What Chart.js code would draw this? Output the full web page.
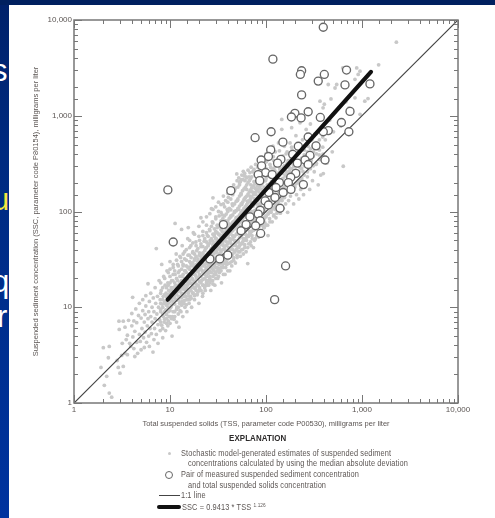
<!DOCTYPE html>
<html><head><meta charset="utf-8">
<script src="https://cdn.jsdelivr.net/npm/chart.js@4"></script>
<style>
html,body{margin:0;padding:0;width:495px;height:518px;overflow:hidden;background:linear-gradient(#00216a 0,#002a80 30%,#00339f 100%);font-family:'Liberation Sans',Arial,sans-serif}
#top{position:absolute;left:0;top:0;width:495px;height:5px;background:#00205f}
.side{position:absolute;font-family:'Liberation Sans',Arial,sans-serif;font-size:31px;line-height:31px;color:#fff}
#panel{position:absolute;left:9px;top:5px;width:486px;height:513px;background:#fff;overflow:hidden}
#wrap{position:absolute;left:0;top:0;width:495px;height:518px;filter:blur(.5px)}
canvas{position:absolute;left:0;top:0}
.t{position:absolute;white-space:nowrap;color:#5c5654;font-size:8.6px;line-height:10px;letter-spacing:.12px;transform:scaleX(.86);transform-origin:left center}
.mk{position:absolute;box-sizing:border-box}
</style></head><body>
<div id="top"></div>
<div class="side" style="left:50px;top:-33px;color:#f4b400">g</div>
<div class="side" style="left:-8px;top:55px">s</div>
<div class="side" style="left:-8px;top:184px;color:#f5e642">u</div>
<div class="side" style="left:-8px;top:266px">q</div>
<div class="side" style="left:-3px;top:301px">r</div>
<div id="panel"></div>
<div id="wrap">
<canvas id="c" width="495" height="518"></canvas>
<div class="t" style="left:229px;top:433px;font-weight:bold;color:#2c2a2a;font-size:9px;transform:scaleX(.88)">EXPLANATION</div>
<div class="mk" style="left:167.5px;top:451.5px;width:3px;height:3px;border-radius:50%;background:#c8c8c8"></div>
<div class="t" style="left:181px;top:448px">Stochastic model-generated estimates of suspended sediment</div>
<div class="t" style="left:188px;top:458px">concentrations calculated by using the median absolute deviation</div>
<div class="mk" style="left:165px;top:470.5px;width:8px;height:8px;border-radius:50%;border:1.3px solid #666;background:#fff"></div>
<div class="t" style="left:181px;top:469px">Pair of measured suspended sediment concentration</div>
<div class="t" style="left:188px;top:480px">and total suspended solids concentration</div>
<div class="mk" style="left:159px;top:494.5px;width:21px;height:1.2px;background:#444"></div>
<div class="t" style="left:181px;top:490px">1:1 line</div>
<div class="mk" style="left:157px;top:504.5px;width:24px;height:4.5px;border-radius:2px;background:#111"></div>
<div class="t" style="left:182px;top:502px">SSC = 0.9413 * TSS <span style="font-size:5.5px;position:relative;top:-3px">1.126</span></div>
</div>
<script>
const xTickLabels = {1:'1',10:'10',100:'100',1000:'1,000',10000:'10,000'};
const xTitle = 'Total suspended solids (TSS, parameter code P00530), milligrams per liter';
const yTitle = 'Suspended sediment concentration (SSC, parameter code P80154), milligrams per liter';
const oneToOneLine = [[1,1],[10000,10000]];
const regressionLine = [[9.46,12],[1240,2870]];
const measuredPairs = [[9.5,168],[43,165],[36,73],[10.8,48],[55,63],[62,73],[40,35],[26,32],[33,32],[395,8400],[118,3900],[235,2950],[228,2700],[405,2700],[350,2300],[690,3000],[665,2100],[1210,2150],[235,1650],[275,1100],[200,1060],[184,970],[232,950],[368,960],[750,1110],[610,850],[445,700],[395,680],[730,680],[113,680],[77,590],[150,530],[275,600],[217,480],[332,485],[112,440],[106,375],[89,345],[190,395],[287,385],[255,345],[143,350],[132,320],[212,320],[412,345],[275,310],[90,300],[99,255],[83,243],[116,243],[86,210],[204,250],[181,228],[138,200],[245,191],[171,200],[127,178],[107,158],[151,158],[182,170],[124,140],[98,129],[140,108],[106,117],[87,103],[83,94],[68,88],[87,80],[78,71],[88,59],[160,27],[123,12]];
const modelEstimates = [
[1.91,2.35],[2.02,3.78],[2.33,3.9],[2.28,2.97],[2.19,1.9],[2.07,1.53],[2.33,1.27],[2.47,1.15],[2.89,2.35],[3.01,2.05],[3.26,2.41],[3.18,4.2],[3.14,3.14],[2.82,2.78],[3.4,3.3],[2.96,5.86],[2.94,7.15],[3.26,7.15],[3.4,6.2],
[3.5,4.6],[3.6,3.2],[3.6,5.1],[3.7,7.3],[3.8,4.2],[3.9,3.9],[4,6.4],[4.08,12.7],[4,8.6],[4.1,4.9],[4.2,3.7],[4.2,7.2],[4.3,3.06],[4.3,5.6],[4.4,9.6],[4.5,4.3],[4.5,6.9],[4.6,3.3],[4.7,8.2],[4.8,5.2],[4.8,11],[4.9,4.4],[5,3.6],[5,7.7],[5.1,6],[5.2,9.2],[5.2,12],[5.3,4.8],[5.4,3.8],[5.4,7],[5.5,5.5],[5.5,8.4],[5.6,10.3],[5.6,13.2],[5.7,4.3],[5.8,6.4],[5.9,17.6],[5.9,7.6],[6,5],[6,9],[6.1,11.5],[6.1,3.9],[6.2,6],[6.3,8],[6.3,14],[6.4,5.3],[6.5,10],[6.5,7],[6.65,3.4],[6.7,12.5],[6.8,4.6],[6.8,9],[6.9,6],[7,16],[7,7.6],[7.1,11],[7.2,41],[7.2,5.2],[7.3,8.5],[7.4,13],[7.5,6.6],[7.5,4.2],[7.6,10],[7.7,19],[7.8,7.4],[7.9,12],[7.9,5.7],[8,9],[8.1,15],[8.2,28],[8.2,6.5],[8.3,10.8],[8.4,4.8],[8.5,8],[8.5,13],[8.6,21],[8.7,7],[8.8,11],[8.9,17],[9,5.7],[9,9.4],[9.1,14],[9.2,7.6],[9.3,24],[9.4,11.5],[9.5,6.4],[9.5,18],[9.6,9],[9.7,15],[9.8,8],[9.9,12.5],[10,21],[10,6.8],[10,30],[10.2,10],[10.3,16],[10.5,5],[10.5,13],[10.6,8],[10.7,19],[10.8,26],[10.9,11],[11,7.5],[11,14.6],[11.2,9],[11.3,75],[11.3,22],[11.4,17],[11.5,12],[11.6,36],[11.7,7],[11.8,10],[11.9,15],[12,28],[12,19],[12.2,8.5],[12.4,6.2],[12.4,13],[12.5,24],[12.6,11],[12.8,17],[12.9,33],[13,9],[13.2,65],[13.2,14],[13.3,21],[13.4,44],[13.5,11.5],[13.6,8],[13.7,27],[13.8,16],[14,19],[14,13],[14.2,38],[14.3,10],[14.5,24],[14.6,15],[14.8,31],[14.9,12],[15,9],[15,20],[15.2,17],[15.3,52],[15.5,68],[15.5,14],[15.6,26],[15.8,11],[15.9,35],[16,22],[16,18],[16.3,13],[16.4,29],[16.5,44],[16.7,16],[16.8,10],[17,24],[17,20],[17.2,37],[17.4,14],[17.5,60],[17.6,27],[17.8,18],[18,12],[18,32],[18.2,22],[18.4,16],[18.6,48],[18.8,26],[19,20],[19,39],[19.2,13.5],[19.5,30],[19.6,17],[19.8,24],[20,11],[20,55],[20.2,35],[20.4,21],[20.6,27],[20.8,15],[21,86],[21,43],[21.2,19],[21.4,32],[21.6,24],[21.8,13],[22,62],[22,37],[22.3,17],[22.5,28],[22.7,49],[23,22],[23,34],[23.3,15],[23.5,41],[23.7,26],[24,72],[24,19],[24.3,31],[24.5,56],[24.7,23],[25,37],[25,45],[25.3,17],[25.5,28],[25.8,65],[26,21],[26,34],[26.3,50],[26.6,15],[26.8,40],[27,107],[27,26],[27.3,30],[27.6,78],[27.8,19],[28,139],[28,45],[28.3,36],[28.6,24],[29,58],[29,28],[29.3,17],[29.6,42],[29.9,33],[30,88],[30,22],[30.3,52],[30.6,38],[31,26],[31,68],[31.4,20],[31.8,46],[32,31],[32,100],[32.4,57],[32.8,23],[33,40],[33.4,74],[33.8,29],[34,50],[34.4,18],[34.8,35],[35,62],[35,92],[35.5,26],[36,44],[36,120],[36.5,32],[37,54],[37.4,22],[37.8,80],[38,39],[38.5,66],[39,28],[39,48],[39.5,105],[40,34],[40,28.6],[40,58],[40.5,140],[41,42],[41.5,74],[42,24],[42,52],[42.5,36],[43,90],[43.5,46],[44,30],[44,64],[44.5,120],[45,40],[45,56],[45.5,78],[46,33],[46.5,165],[47,50],[47,100],[47.5,38],[48,68],[48.5,44],[49,86],[49.6,247],[50,35],[50,58],[50.5,130],[51,76],[51.5,48],[52,42],[52,105],[52.5,62],[53,190],[53.5,38],[54,54],[54,88],[54.5,70],[55,150],[55.5,46],[56,118],[56.5,60],[57,80],[57,40],[58,263],[58,52],[58.5,98],[59,68],[59.5,135],[60,45],[60,76],[60.5,210],[61,58],[61.5,112],[62,88],[62.5,50],[63,170],[63.5,66],[64,128],[64.5,28.6],[64.5,42],[65,96],[65.5,75],[66,55],[66.5,230],[67,110],[67.5,62],[68,145],[68.5,84],[69,48],[69.5,190],[70,70],[70.5,125],[71,100],[71.5,56],[72,160],[72.5,78],[73,260],[73.5,114],[74,42],[74,90],[74.5,64],[75,205],[75.5,136],[76,72],[76.5,102],[77,175],[77.5,52],[78,84],[78.5,150],[79,240],[79.5,120],[80,66],[80.5,96],[81,185],[81.5,76],[82,130],[82.5,56],[83,108],[83.5,215],[84,88],[84.5,160],[85,70],[85.5,280],[86,120],[86.5,98],[87,80],[87.5,190],[88,140],[88.5,62],[89,105],[89.5,235],[90,84],[90.5,170],[91,125],[91.5,72],[92,200],[92.5,95],[93,150],[93.5,300],[94,110],[94.5,68],[95,82],[95.5,180],[96,132],[96.5,250],[97,100],[97.5,76],[98,160],[98.5,120],[99,210],[100,88],[100,140],[101,330],[102,112],[103,190],[104,72],[105,56],[105,150],[106,96],[107,240],[108,128],[109,84],[110,175],[111,115],[112,290],[113,98],[114,205],[115,140],[116,78],[117,160],[118,110],[119,375],[120,225],[121,92],[122,130],[123,185],[124,265],[125,105],[126,150],[127,86],[128,320],[129,200],[130,120],[132,100],[133,170],[134,240],[135,140],[136,112],[138,430],[139,280],[140,190],[141,96],[143,155],[144,215],[146,915],[146,722],[147,130],[148,350],[150,250],[151,108],[153,175],[155,300],[156,140],[158,200],[160,120],[162,400],[163,260],[165,160],[168,98],[168,225],[170,340],[172,130],[174,290],[176,185],[178,520],[180,145],[182,250],[185,750],[185,210],[187,440],[189,160],[192,310],[194,120],[196,370],[198,230],[200,180],[203,270],[205,620],[208,150],[210,330],[212,200],[215,480],[218,240],[220,135],[222,410],[226,845],[226,290],[230,170],[233,350],[236,215],[240,560],[243,260],[246,150],[250,440],[255,310],[258,190],[262,720],[266,380],[270,230],[275,480],[280,280],[285,170],[290,820],[295,340],[300,560],[305,210],[312,420],[318,260],[325,650],[333,310],[340,500],[350,190],[358,390],[365,1420],[372,240],[380,760],[393,398],[393,1210],[395,249],[405,1320],[415,560],[430,320],[445,2120],[460,900],[475,1500],[490,420],[505,680],[524,1950],[545,2120],[570,1200],[600,780],[630,3160],[638,297],[680,1400],[732,1210],[845,1540],[845,2400],[881,3160],[913,2700],[953,2920],[955,1035],[1070,1420],[1155,1510],[1490,3400],[2280,5860]
];
/* denser part of the estimate cloud: each row is one TSS value followed by SSC values read at it */
const denseRows = [
[8,7,9.5,11,14,18],[8.4,6,8.5,10,12,16],[8.8,7.5,9,11.5,13.5,20],[9.2,6.8,8.4,10.5,12.8,16],[9.6,7.2,10,11,13.5,17,23],[10,8,9.2,11.5,14,18,25],[10.4,7.6,10.5,12,15,19],[10.8,9,11.5,13,16,22,28],[11.2,8,10.8,12.6,14.5,18,24],[11.7,9.5,11.8,13.5,16,20,31],[12.2,10,12.2,14.6,17,23,27],[12.7,9.2,11.4,15,18,21,34],[13.2,10.5,12.5,16,19,25,30],[13.7,11,13.4,15.5,18,22,28,36],[14.2,11.8,14,17,20,24,32],[14.8,10.6,13,15.8,18.5,23,27,40],[15.4,12,14.6,17.5,21,26,35],[16,13,15.5,19,22,25,30,42],[16.6,12.4,14.8,17.8,21.5,27,33],[17.3,14,16.5,19.5,23,29,38,47],[18,13.2,15.8,18.5,22,25,31,36],[18.7,15,17.5,21,24,28,34,44],[19.5,14.4,16.8,20,23.5,27,32,41],[20.3,16,18.6,22,26,30,37,50],[21,15,18,21,25,29,34,46],[22,17,19.5,23,27,31,36,43,56],[23,16,20,24,28,33,39,52],[24,18,21,25,29,35,42,48,60],[25,19,22.5,27,31,36,44,55],[26,20,24,28,33,38,47,63],[27,19,23,29,35,41,52,70],[28,21,25,30,36,43,49,58,76],[29,22,27,32,38,46,55,66],[30,23,26,31,37,44,52,62,84],[31,24,29,34,41,49,60,72],[32.5,25,28,36,42,50,58,70,90],[34,26,31,38,45,54,65,80,98],[35.5,28,33,40,47,57,68,84],[37,29,35,41,50,60,72,90,112],[38.5,30,37,44,53,63,76,94],[40,32,38,46,55,67,80,100,125],[41.5,33,40,48,58,70,85,108],[43,35,42,50,60,72,88,104,135],[45,36,44,52,63,76,92,115,150],[47,38,46,55,66,80,98,120,165],[49,40,48,58,70,85,102,128],[51,42,50,60,73,88,108,135,180],[53,44,53,64,77,92,114,145,200],[55,46,55,66,80,98,120,155,215],[57,48,58,70,84,102,125,165],[59,50,60,72,88,108,132,172,235],[61,52,63,76,92,112,140,180],[63,54,65,78,96,118,145,190,225],[65,56,68,82,100,124,152,200],[67,58,70,86,105,130,160,210],[69,60,72,90,110,136,168,220],[71,62,76,92,114,142,176,230],[74,64,80,96,120,150,185],[77,68,84,102,126,158,196,240],[80,70,86,106,132,165,205],[83,74,90,112,138,172,215],[86,76,94,116,144,180,225],[89,80,98,122,150,190],[92,82,102,126,158,200,245],[96,86,108,132,165,210],[100,90,112,140,175,220,280],[105,94,118,148,185,235],[110,100,125,155,195,250,310],[115,104,130,165,205,265],[120,110,136,172,218,280,340],[125,115,142,180,230,295],[130,120,150,190,240,310],[136,128,158,200,255,330],[142,134,165,210,270,350],[150,140,175,222,285,380],[158,150,185,235,300],[166,158,195,250,320,420],[175,165,205,265,340],[185,178,220,280,360,470],[195,185,232,295,380],[205,195,245,315,405],[220,210,262,335,430],[235,225,280,360,460],[250,240,300,390],[270,260,325,420,520],[290,280,350,450,560],[310,300,375,480],[335,320,400,520,650],[360,350,440,560],[390,380,470,600,760]
];
const denseEstimates = denseRows.flatMap(([x,...ys])=>ys.map(y=>[x,y]));
const lowerEdgeEstimates = [[14,11],[16,12],[18,13.5],[20,15],[22,14],[24,17],[26,18],[28,17.5],[30,20],[32,21],[34,24],[36,22],[38,26],[40,24],[42,29],[44,27],[46,31],[48,29],[50,33],[52,38],[54,34],[56,40],[58,36],[60,42],[62,38],[66,46],[70,44],[72,52],[76,50],[80,56],[84,54],[88,62],[92,60],[96,68],[100,72],[110,78],[120,90],[130,96]];
const upperEdgeEstimates = [[16,50],[18,58],[20,70],[22,78],[24,88],[26,95],[28,105],[30,112],[32,125],[34,118],[36,145],[38,130],[40,155],[42,170],[44,160],[46,190],[48,175],[50,210],[52,225],[54,205],[56,240],[58,215],[60,250],[62,230],[65,270],[68,255],[70,290],[75,275],[78,310],[82,290],[85,340],[90,320],[95,360],[100,400],[105,350],[110,430],[118,480],[125,420],[135,520],[145,560],[155,480]];

const inwardTicks = {
  id:'inwardTicks',
  afterDatasetsDraw(chart){
    const {ctx,chartArea:a,scales:{x,y}} = chart;
    ctx.save();
    ctx.strokeStyle='#777';ctx.lineWidth=1;
    const isMajor=v=>Math.abs(Math.log10(v)-Math.round(Math.log10(v)))<1e-6;
    x.ticks.forEach(t=>{const p=Math.round(x.getPixelForValue(t.value))+.5;const l=isMajor(t.value)?8:4;
      ctx.beginPath();ctx.moveTo(p,a.bottom);ctx.lineTo(p,a.bottom-l);ctx.moveTo(p,a.top);ctx.lineTo(p,a.top+l);ctx.stroke();});
    y.ticks.forEach(t=>{const p=Math.round(y.getPixelForValue(t.value))+.5;const l=isMajor(t.value)?8:4;
      ctx.beginPath();ctx.moveTo(a.left,p);ctx.lineTo(a.left+l,p);ctx.moveTo(a.right,p);ctx.lineTo(a.right-l,p);ctx.stroke();});
    ctx.lineWidth=1.5;ctx.strokeStyle='#777';ctx.strokeRect(a.left,a.top,a.right-a.left,a.bottom-a.top);
    ctx.restore();
  }
};
const tickFont={family:"'Liberation Sans',Arial",size:8};
const titleFont={family:"'Liberation Sans',Arial",size:7.5};
const logAxis=(title,titlePad,tickPad)=>({
  type:'logarithmic',min:1,max:10000,
  grid:{display:false},border:{display:false},
  ticks:{autoSkip:false,maxRotation:0,minRotation:0,padding:tickPad,color:'#5c5654',font:tickFont,
    callback:v=>xTickLabels[v]||''},
  title:{display:true,text:title,color:'#5c5654',font:titleFont,padding:titlePad}
});
const xAxis=logAxis(xTitle,{top:0,bottom:4},-6);
xAxis.afterFit=s=>{s.height=29};
const yAxis=logAxis(yTitle,{top:6,bottom:6},-6);
yAxis.afterFit=s=>{s.width=49};
new Chart(document.getElementById('c'),{
  type:'scatter',
  data:{datasets:[
    {label:'SSC = 0.9413 * TSS',data:regressionLine.map(([x,y])=>({x,y})),showLine:true,borderColor:'#111',borderWidth:4.2,borderCapStyle:'round',pointRadius:0,order:0},
    {label:'Pair of measured suspended sediment concentration and total suspended solids concentration',data:measuredPairs.map(([x,y])=>({x,y})),pointRadius:4,pointBorderWidth:1.35,pointBorderColor:'#666',pointBackgroundColor:'#fff',order:1},
    {label:'1:1 line',data:oneToOneLine.map(([x,y])=>({x,y})),showLine:true,borderColor:'#444',borderWidth:1.2,pointRadius:0,order:2},
    {label:'Stochastic model-generated estimates',data:modelEstimates.concat(denseEstimates,lowerEdgeEstimates,upperEdgeEstimates).map(([x,y])=>({x,y})),pointRadius:1.9,pointBorderWidth:0,pointBackgroundColor:'#c8c8c8',order:3}
  ]},
  options:{
    responsive:false,animation:false,
    layout:{padding:{left:25,top:20,right:37,bottom:86}},
    plugins:{legend:{display:false},tooltip:{enabled:false}},
    scales:{x:xAxis,y:yAxis}
  },
  plugins:[inwardTicks]
});
</script>
</body></html>
